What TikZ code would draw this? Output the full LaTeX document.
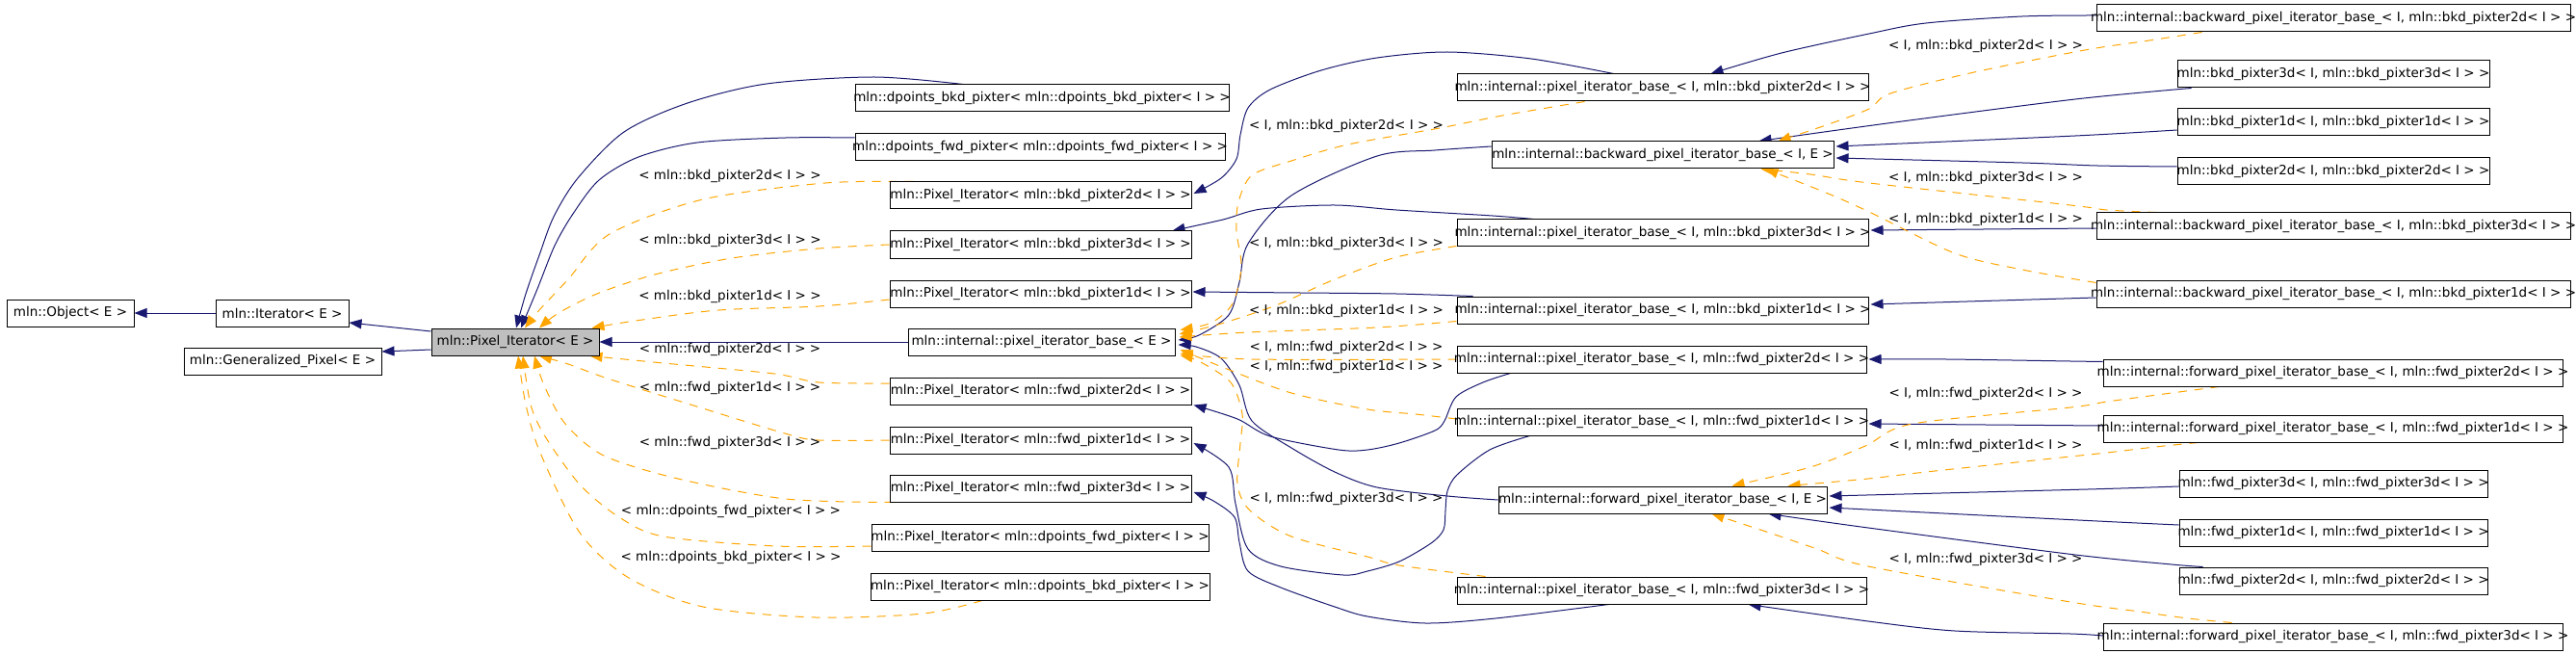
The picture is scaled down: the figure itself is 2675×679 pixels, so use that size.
\documentclass[tikz,border=0pt]{standalone}
\usepackage{fontspec}
\setmainfont{DejaVu Sans}
\usetikzlibrary{arrows.meta}
\usetikzlibrary{calc}
\definecolor{inhblue}{HTML}{191970}
\definecolor{tplorange}{HTML}{FFA500}
\definecolor{basegray}{HTML}{BFBFBF}
\tikzstyle{cls} = [draw, fill=white, line width=1pt, minimum height=28pt, inner sep=0pt,
  execute at begin node={\hbox to 0pt\bgroup\hss}, execute at end node={\hss\egroup}]
\tikzstyle{inh} = [draw=inhblue, line width=1pt, -{Triangle[length=13pt,width=10pt]}]
\tikzstyle{tpl} = [draw=tplorange, line width=1pt, dash pattern=on 9pt off 8pt, -{Triangle[length=13pt,width=10pt]}]
\tikzstyle{lbl} = [inner sep=0pt]
\pgfdeclarelayer{edges}
\pgfsetlayers{edges,main}

\begin{document}
\begin{tikzpicture}[x=1pt,y=-1pt]
	\tikzstyle{every node}=[font=\fontsize{13.5}{16}\selectfont]
	\useasboundingbox (0,0) rectangle (2675,679);
	
	% ------------------- Base classes ------------------- %
	\node[cls, minimum width=132pt] (obj) at (73,325) {mln::Object< E >};
	\node[cls, minimum width=138pt] (iter) at (293,325) {mln::Iterator< E >};
	\node[cls, minimum width=205pt] (genpix) at (293.5,375) {mln::Generalized\_Pixel< E >};
	\node[cls, fill=basegray, minimum width=174pt] (pixit) at (535,355) {mln::Pixel\_Iterator< E >};
	
	% ------------------- Pixel_Iterator instances ------------------- %
	\node[cls, minimum width=388pt] (dpbkd) at (1082,102) {mln::dpoints\_bkd\_pixter< mln::dpoints\_bkd\_pixter< I > >};
	\node[cls, minimum width=384pt] (dpfwd) at (1080,153) {mln::dpoints\_fwd\_pixter< mln::dpoints\_fwd\_pixter< I > >};
	\node[cls, minimum width=313pt] (pibkd2) at (1080.5,203) {mln::Pixel\_Iterator< mln::bkd\_pixter2d< I > >};
	\node[cls, minimum width=313pt] (pibkd3) at (1080.5,254) {mln::Pixel\_Iterator< mln::bkd\_pixter3d< I > >};
	\node[cls, minimum width=313pt] (pibkd1) at (1080.5,305) {mln::Pixel\_Iterator< mln::bkd\_pixter1d< I > >};
	\node[cls, minimum width=277pt] (pibE) at (1081.5,355) {mln::internal::pixel\_iterator\_base\_< E >};
	\node[cls, minimum width=313pt] (pifwd2) at (1080.5,406) {mln::Pixel\_Iterator< mln::fwd\_pixter2d< I > >};
	\node[cls, minimum width=313pt] (pifwd1) at (1080.5,457) {mln::Pixel\_Iterator< mln::fwd\_pixter1d< I > >};
	\node[cls, minimum width=313pt] (pifwd3) at (1080.5,507) {mln::Pixel\_Iterator< mln::fwd\_pixter3d< I > >};
	\node[cls, minimum width=350pt] (pidpfwd) at (1080,558) {mln::Pixel\_Iterator< mln::dpoints\_fwd\_pixter< I > >};
	\node[cls, minimum width=352pt] (pidpbkd) at (1080,609) {mln::Pixel\_Iterator< mln::dpoints\_bkd\_pixter< I > >};
	
	% ------------------- pixel_iterator_base_ instances ------------------- %
	\node[cls, minimum width=427pt] (ibbkd2) at (1726.5,91) {mln::internal::pixel\_iterator\_base\_< I, mln::bkd\_pixter2d< I > >};
	\node[cls, minimum width=355pt] (bwdE) at (1726.5,161) {mln::internal::backward\_pixel\_iterator\_base\_< I, E >};
	\node[cls, minimum width=427pt] (ibbkd3) at (1726.5,242) {mln::internal::pixel\_iterator\_base\_< I, mln::bkd\_pixter3d< I > >};
	\node[cls, minimum width=427pt] (ibbkd1) at (1726.5,322) {mln::internal::pixel\_iterator\_base\_< I, mln::bkd\_pixter1d< I > >};
	\node[cls, minimum width=425pt] (ibfwd2) at (1725.5,373) {mln::internal::pixel\_iterator\_base\_< I, mln::fwd\_pixter2d< I > >};
	\node[cls, minimum width=425pt] (ibfwd1) at (1725.5,438) {mln::internal::pixel\_iterator\_base\_< I, mln::fwd\_pixter1d< I > >};
	\node[cls, minimum width=341pt] (fwdE) at (1726.5,519) {mln::internal::forward\_pixel\_iterator\_base\_< I, E >};
	\node[cls, minimum width=425pt] (ibfwd3) at (1725.5,613) {mln::internal::pixel\_iterator\_base\_< I, mln::fwd\_pixter3d< I > >};
	
	% ------------------- Pixters ------------------- %
	\node[cls, minimum width=492pt] (bwbkd2) at (2423,19) {mln::internal::backward\_pixel\_iterator\_base\_< I, mln::bkd\_pixter2d< I > >};
	\node[cls, minimum width=324pt] (bkd3) at (2423,77) {mln::bkd\_pixter3d< I, mln::bkd\_pixter3d< I > >};
	\node[cls, minimum width=324pt] (bkd1) at (2423,127) {mln::bkd\_pixter1d< I, mln::bkd\_pixter1d< I > >};
	\node[cls, minimum width=324pt] (bkd2) at (2423,178) {mln::bkd\_pixter2d< I, mln::bkd\_pixter2d< I > >};
	\node[cls, minimum width=492pt] (bwbkd3) at (2423,235) {mln::internal::backward\_pixel\_iterator\_base\_< I, mln::bkd\_pixter3d< I > >};
	\node[cls, minimum width=492pt] (bwbkd1) at (2423,305) {mln::internal::backward\_pixel\_iterator\_base\_< I, mln::bkd\_pixter1d< I > >};
	\node[cls, minimum width=477pt] (fwfwd2) at (2422.5,387) {mln::internal::forward\_pixel\_iterator\_base\_< I, mln::fwd\_pixter2d< I > >};
	\node[cls, minimum width=477pt] (fwfwd1) at (2422.5,445) {mln::internal::forward\_pixel\_iterator\_base\_< I, mln::fwd\_pixter1d< I > >};
	\node[cls, minimum width=320pt] (fwd3) at (2423,502) {mln::fwd\_pixter3d< I, mln::fwd\_pixter3d< I > >};
	\node[cls, minimum width=320pt] (fwd1) at (2423,553) {mln::fwd\_pixter1d< I, mln::fwd\_pixter1d< I > >};
	\node[cls, minimum width=320pt] (fwd2) at (2423,603) {mln::fwd\_pixter2d< I, mln::fwd\_pixter2d< I > >};
	\node[cls, minimum width=477pt] (fwfwd3) at (2422.5,661) {mln::internal::forward\_pixel\_iterator\_base\_< I, mln::fwd\_pixter3d< I > >};
	
	% ------------------- Edge labels ------------------- %
	\node[lbl] (lbkd2) at (758,183) {< mln::bkd\_pixter2d< I > >};
	\node[lbl] (lbkd3) at (758,250) {< mln::bkd\_pixter3d< I > >};
	\node[lbl] (lbkd1) at (758,308) {< mln::bkd\_pixter1d< I > >};
	\node[lbl] (lfwd2) at (758,363) {< mln::fwd\_pixter2d< I > >};
	\node[lbl] (lfwd1) at (758,403) {< mln::fwd\_pixter1d< I > >};
	\node[lbl] (lfwd3) at (758,460) {< mln::fwd\_pixter3d< I > >};
	\node[lbl] (ldpfwd) at (759,531) {< mln::dpoints\_fwd\_pixter< I > >};
	\node[lbl] (ldpbkd) at (759,579) {< mln::dpoints\_bkd\_pixter< I > >};
	
	\node[lbl] (libkd2) at (1398,131) {< I, mln::bkd\_pixter2d< I > >};
	\node[lbl] (libkd3) at (1398,253) {< I, mln::bkd\_pixter3d< I > >};
	\node[lbl] (libkd1) at (1398,323) {< I, mln::bkd\_pixter1d< I > >};
	\node[lbl] (lifwd2) at (1398,361) {< I, mln::fwd\_pixter2d< I > >};
	\node[lbl] (lifwd1) at (1398,381) {< I, mln::fwd\_pixter1d< I > >};
	\node[lbl] (lifwd3) at (1398,518) {< I, mln::fwd\_pixter3d< I > >};
	
	\node[lbl] (lbwbkd2) at (2062,48) {< I, mln::bkd\_pixter2d< I > >};
	\node[lbl] (lbwbkd3) at (2062,185) {< I, mln::bkd\_pixter3d< I > >};
	\node[lbl] (lbwbkd1) at (2062,228) {< I, mln::bkd\_pixter1d< I > >};
	\node[lbl] (lfwfwd2) at (2062,409) {< I, mln::fwd\_pixter2d< I > >};
	\node[lbl] (lfwfwd1) at (2062,463) {< I, mln::fwd\_pixter1d< I > >};
	\node[lbl] (lfwfwd3) at (2062,581) {< I, mln::fwd\_pixter3d< I > >};
	
	\begin{pgfonlayer}{edges}
	% ------------------- Inheritance (solid) ------------------- %
	\draw[inh] (iter) -- (obj);
	\draw[inh] ($(pixit.west)+(0,-11)$) -- ($(iter.east)+(0,10)$);
	\draw[inh] ($(pixit.west)+(0,8)$) -- ($(genpix.east)+(0,-10)$);
	\draw[inh] (pibE) -- (pixit);
	\draw[inh] plot[smooth] coordinates {($(dpbkd.north)+(-82,0)$) (908,80) (796,87) (714,107) (648,137) (600,185) (575,225) (560,265) (546,305) ($(pixit.north)+(1,0)$)};
	\draw[inh] plot[smooth] coordinates {($(dpfwd.west)+(0,-10)$) (816,143) (724,148) (663,163) (622,187) (595,222) (576,255) (558,300) ($(pixit.north)+(6,0)$)};
	
	\draw[inh] plot[smooth] coordinates {($(ibbkd2.north)+(-51,0)$) (1590,61) (1503,54) (1430,60) (1372,73) (1319,93) (1296,112) (1288,140) (1284,165) (1268,185) ($(pibkd2.east)+(2,-2)$)};
	\draw[inh] plot[smooth] coordinates {($(ibbkd3.north west)+(80,0)$) (1550,224) (1450,218) (1386,213) (1310,217) (1270,228) ($(pibkd3.north east)+(-20,0)$)};
	\draw[inh] plot[smooth] coordinates {($(ibbkd1.north west)+(17,0)$) (1450,305) (1350,304) ($(pibkd1.east)+(1,-2)$)};
	\draw[inh] plot[smooth] coordinates {($(ibfwd2.south)+(-157,0)$) (1540,397) (1512,412) (1500,437) (1490,447) (1453,460) (1420,467) (1390,467) (1319,453) (1285,435) ($(pifwd2.south east)+(2,0)$)};
	\draw[inh] plot[smooth] coordinates {($(ibfwd1.south)+(-137,0)$) (1547,467) (1513,493) (1503,510) (1501,530) (1499,550) (1486,564) (1453,583) (1420,593) (1395,597) (1330,588) (1296,570) (1283,523) (1276,485) ($(pifwd1.east)+(2,3)$)};
	\draw[inh] plot[smooth] coordinates {($(ibfwd3.south)+(-55,0)$) (1553,642) (1480,647) (1420,640) (1386,630) (1330,610) (1296,593) (1287,563) (1282,537) (1260,520) ($(pifwd3.east)+(2,4)$)};
	
	\draw[inh] plot[smooth] coordinates {($(bwdE.west)+(0,-9)$) (1490,156) (1430,162) (1341,203) (1296,253) (1287,293) (1276,327) (1245,348) ($(pibE.east)+(3,-2)$)};
	\draw[inh] plot[smooth] coordinates {(fwdE.west) (1503,515) (1430,506) (1386,490) (1341,465) (1300,437) (1287,400) (1268,372) (1242,360) ($(pibE.east)+(3,3)$)};
	
	\draw[inh] plot[smooth] coordinates {($(bwbkd2.west)+(0,-3)$) (2100,17) (2000,24) (1941,35) (1850,55) ($(ibbkd2.north)+(50,0)$)};
	\draw[inh] ($(bwbkd3.west)+(0,2)$) -- ($(ibbkd3.east)+(2,-3)$);
	\draw[inh] ($(bwbkd1.west)+(0,4)$) -- ($(ibbkd1.east)+(2,-6)$);
	\draw[inh] plot[smooth] coordinates {($(bkd3.south west)+(15,0)$) (2155,103) (1960,128) ($(bwdE.north)+(100,0)$)};
	\draw[inh] plot[smooth] coordinates {($(bkd1.west)+(0,8)$) (2155,141) ($(bwdE.east)+(2,-9)$)};
	\draw[inh] plot[smooth] coordinates {($(bkd2.west)+(0,-5)$) (2178,172) (2100,169) ($(bwdE.east)+(2,3)$)};
	
	\draw[inh] plot[smooth] coordinates {($(fwfwd2.north west)+(0,3)$) (2150,375) (2021,373) ($(ibfwd2.east)+(2,0)$)};
	\draw[inh] ($(fwfwd1.west)+(0,-3)$) -- ($(ibfwd1.east)+(2,2)$);
	\draw[inh] plot[smooth] coordinates {($(fwfwd3.west)+(0,-1)$) (2150,658) (2030,655) (1940,645) ($(ibfwd3.south)+(90,0)$)};
	\draw[inh] plot[smooth] coordinates {($(fwd3.west)+(0,3)$) (2168,508) ($(fwdE.east)+(2,-4)$)};
	\draw[inh] plot[smooth] coordinates {($(fwd1.west)+(0,-8)$) (2178,541) ($(fwdE.east)+(2,8)$)};
	\draw[inh] plot[smooth] coordinates {($(fwd2.north west)+(25,0)$) (2255,586) (2155,576) (1940,548) ($(fwdE.south)+(110,0)$)};
	
	% ------------------- Template instances (dashed) ------------------- %
	\draw[tpl] plot[smooth] coordinates {($(bwbkd2.south west)+(110,0)$) (2232,42) (2165,52) (2050,75) (1963,97) (1941,113) (1896,130) ($(bwdE.north)+(120,0)$)};
	\draw[tpl] plot[smooth] coordinates {($(bwbkd3.north west)+(63,0)$) (2188,218) (2150,213) (1941,190) (1880,181) ($(bwdE.south)+(102,0)$)};
	\draw[tpl] plot[smooth] coordinates {($(bwbkd1.north west)+(0,3)$) (2100,280) (2030,263) (1941,220) (1896,200) ($(bwdE.south)+(107,0)$)};
	\draw[tpl] plot[smooth] coordinates {($(fwfwd2.south west)+(121,0)$) (2255,408) (2188,417) (2150,423) (1986,440) (1937,463) (1880,485) ($(fwdE.north)+(72,0)$)};
	\draw[tpl] plot[smooth] coordinates {($(fwfwd1.south west)+(99,0)$) (2238,464) (2188,470) (2150,474) (2000,490) (1940,497) ($(fwdE.north)+(130,0)$)};
	\draw[tpl] plot[smooth] coordinates {($(fwfwd3.north west)+(134,0)$) (2272,642) (2222,635) (2150,625) (1940,588) (1887,570) (1837,553) ($(fwdE.south)+(51,0)$)};
	
	\draw[tpl] plot[smooth] coordinates {($(ibbkd2.south west)+(133,0)$) (1560,120) (1495,133) (1400,150) (1341,167) (1300,182) (1286,210) (1284,240) (1289,277) (1280,315) (1258,335) ($(pibE.north east)+(5,2)$)};
	\draw[tpl] plot[smooth] coordinates {($(ibbkd3.south west)+(0,-1)$) (1450,267) (1386,290) (1325,317) (1268,336) ($(pibE.east)+(4,-8)$)};
	\draw[tpl] plot[smooth] coordinates {($(ibbkd1.south west)+(0,-3)$) (1430,340) (1296,345) ($(pibE.east)+(4,-5)$)};
	\draw[tpl] plot[smooth] coordinates {(ibfwd2.west) (1300,373) ($(pibE.east)+(5,12)$)};
	\draw[tpl] plot[smooth] coordinates {($(ibfwd1.west)+(0,-3)$) (1470,430) (1420,425) (1341,408) (1274,383) ($(pibE.east)+(5,8)$)};
	\draw[tpl] plot[smooth] coordinates {($(ibfwd3.north west)+(30,0)$) (1453,587) (1420,578) (1341,557) (1298,530) (1285,503) (1288,460) (1290,430) (1278,397) (1245,375) ($(pibE.east)+(5,14)$)};
	
	\draw[tpl] plot[smooth] coordinates {($(pibkd2.north west)+(25,0)$) (857,190) (730,207) (633,243) (590,290) (560,322) ($(pixit.north)+(10,0)$)};
	\draw[tpl] plot[smooth] coordinates {(pibkd3.west) (850,258) (760,268) (680,285) (620,305) (580,325) ($(pixit.north)+(25,0)$)};
	\draw[tpl] plot[smooth] coordinates {($(pibkd1.west)+(0,6)$) (850,318) (746,322) (660,333) ($(pixit.north east)+(-8,0)$)};
	\draw[tpl] plot[smooth] coordinates {($(pifwd2.west)+(0,-8)$) (850,397) (804,388) (689,377) ($(pixit.south east)+(-10,0)$)};
	\draw[tpl] plot[smooth] coordinates {(pifwd1.west) (850,457) (815,450) (717,420) (631,393) (590,378) ($(pixit.south)+(25,0)$)};
	\draw[tpl] plot[smooth] coordinates {($(pifwd3.south west)+(4,0)$) (816,518) (704,497) (627,473) (587,440) (565,400) ($(pixit.south)+(20,0)$)};
	\draw[tpl] plot[smooth] coordinates {($(pidpfwd.west)+(0,9)$) (806,567) (689,557) (643,537) (602,503) (566,453) (551,420) ($(pixit.south)+(8,0)$)};
	\draw[tpl] plot[smooth] coordinates {($(pidpbkd.south)+(-60,0)$) (959,637) (847,641) (730,630) (653,600) (602,553) (561,470) (546,420) ($(pixit.south)+(3,0)$)};
	\end{pgfonlayer}
	
\end{tikzpicture}
\end{document}
